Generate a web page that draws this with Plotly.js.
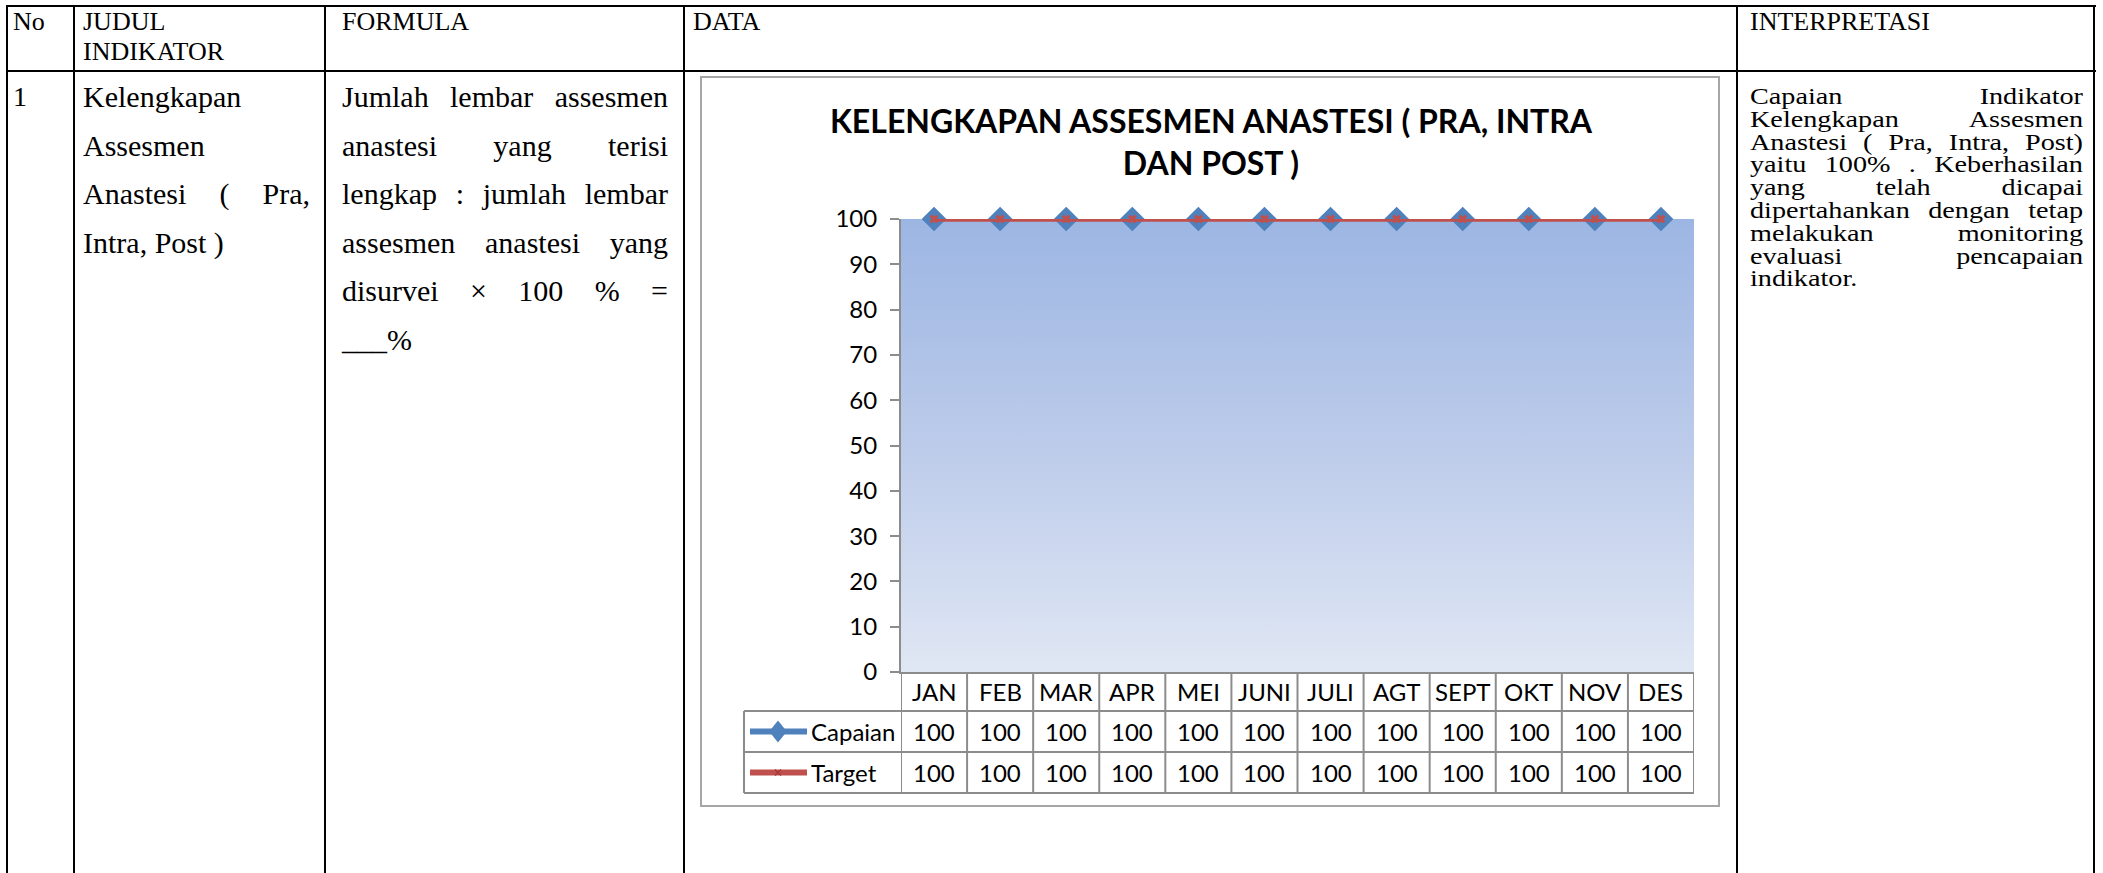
<!DOCTYPE html>
<html><head><meta charset="utf-8">
<script src="https://cdn.plot.ly/plotly-3.0.1.min.js"></script>
<style>
html,body{margin:0;padding:0;background:#fff;width:2103px;height:873px;overflow:hidden;}
.v{position:absolute;background:#000;width:2px;}
.h{position:absolute;background:#000;height:2px;}
.t{position:absolute;font-family:"Liberation Serif","Times New Roman",serif;color:#000;white-space:nowrap;}
.j{display:flex;justify-content:space-between;}
#box{position:absolute;left:700px;top:76px;width:1020px;height:731px;border:2px solid #a6a6a6;box-sizing:border-box;}
#chart{position:absolute;left:700px;top:76px;width:1020px;height:731px;}
</style></head><body>
<div id="page"></div>
<div id="box"></div>
<div id="chart"></div>
<script>
// ---- data ----
const months = ['JAN','FEB','MAR','APR','MEI','JUNI','JULI','AGT','SEPT','OKT','NOV','DES'];
const capaian = [100,100,100,100,100,100,100,100,100,100,100,100];
const target  = [100,100,100,100,100,100,100,100,100,100,100,100];
const seriesNames = ['Capaian','Target'];
const yTickVals = [0,10,20,30,40,50,60,70,80,90,100];
const chartTitle = 'KELENGKAPAN ASSESMEN ANASTESI ( PRA, INTRA<br>DAN POST )';
const headers = ['No','JUDUL<br>INDIKATOR','FORMULA','DATA','INTERPRETASI'];
const rowNo = '1';
const judulLines = [['Kelengkapan'],['Assesmen'],['Anastesi','(','Pra,'],['Intra, Post )']];
const formulaLines = [['Jumlah','lembar','assesmen'],['anastesi','yang','terisi'],['lengkap',':','jumlah','lembar'],['assesmen','anastesi','yang'],['disurvei','\u00d7','100','%','='],['___%']];
const interpLines = [['Capaian','Indikator'],['Kelengkapan','Assesmen'],['Anastesi','(','Pra,','Intra,','Post)'],['yaitu','100%','.','Keberhasilan'],['yang','telah','dicapai'],['dipertahankan','dengan','tetap'],['melakukan','monitoring'],['evaluasi','pencapaian'],['indikator.']];

// ---- document table ----
const page = document.getElementById('page');
function add(cls, style, html){const d=document.createElement('div');d.className=cls;d.style.cssText=style;if(html!==undefined)d.innerHTML=html;page.appendChild(d);return d;}
const colX=[7,74,325,684,1737,2094];
colX.forEach(x=>add('v',`left:${x-1}px;top:5px;height:900px;`));
add('h','left:6px;top:5px;width:2090px;');
add('h','left:6px;top:70px;width:2090px;');
// headers
const hs='font-size:26px;line-height:30px;';
add('t',hs+'left:13px;top:7px;',headers[0]);
add('t',hs+'left:83px;top:7px;',headers[1]);
add('t',hs+'left:342px;top:7px;',headers[2]);
add('t',hs+'left:693px;top:7px;',headers[3]);
add('t',hs+'left:1750px;top:7px;',headers[4]);
// row 1
add('t','font-size:28px;line-height:48.5px;left:13px;top:73px;',rowNo);
function block(lines,left,width,top,fs,lh,sx){
  lines.forEach((words,i)=>{
    const last=(i===lines.length-1)||words.length===1;
    const w=width/(sx||1);
    const d=add('t'+(last?'':' j'),`font-size:${fs}px;line-height:${lh}px;left:${left}px;top:${top+i*lh}px;width:${w}px;`+(sx?`transform:scaleX(${sx});transform-origin:0 0;`:''));
    if(last){d.textContent=words.join(' ');}
    else{words.forEach(w=>{const s=document.createElement('span');s.textContent=w;d.appendChild(s);});}
  });
}
block(judulLines,83,227,73,30,48.5);
block(formulaLines,342,326,73,30,48.5);
block(interpLines,1750,333,85,23.5,22.8,1.2);

// ---- chart ----
const W=1020,H=731,ml=201,mr=26,mt=143,mb=135;
const pw=W-ml-mr, ph=H-mt-mb;
const X0=700+ml, Y0=76+H-mb; // page px of plot origin
const px=X=>(X-X0)/pw, py=Y=>(Y0-Y)/ph;
const grey='#8c8c8c', blue='#4f81bd', red='#c0504d';

const grad='data:image/svg+xml;charset=utf-8,'+encodeURIComponent('<svg xmlns="http://www.w3.org/2000/svg" width="100" height="100" viewBox="0 0 100 100" preserveAspectRatio="none"><defs><linearGradient id="g" x1="0" y1="0" x2="0" y2="1"><stop offset="0" stop-color="#9cb6e3"/><stop offset="0.5" stop-color="#bccbea"/><stop offset="1" stop-color="#e0e7f4"/></linearGradient></defs><rect width="100" height="100" fill="url(#g)"/></svg>');

const traces=[
 {x:months,y:capaian,name:seriesNames[0],type:'scatter',mode:'lines+markers',cliponaxis:false,
  line:{color:blue,width:4},marker:{symbol:'diamond',size:19,color:blue}},
 {x:months,y:target,name:seriesNames[1],type:'scatter',mode:'lines+markers',cliponaxis:false,
  line:{color:red,width:5.5},marker:{symbol:'x',size:8,color:red}}
];

const rowTop=[672,711,752,793];
const rowMid=[(rowTop[0]+rowTop[1])/2,(rowTop[1]+rowTop[2])/2,(rowTop[2]+rowTop[3])/2];
const shapes=[];
const tfont={family:'Lato, "Open Sans", sans-serif',size:24,color:'#000'};
// horizontal rules of data table
[1,2,3].forEach(k=>shapes.push({type:'line',xref:'paper',yref:'paper',x0:px(744),x1:1,y0:py(rowTop[k]),y1:py(rowTop[k]),line:{color:grey,width:2}}));
// vertical rules
for(let i=0;i<=months.length;i++){shapes.push({type:'line',xref:'x',yref:'paper',x0:i-0.5,x1:i-0.5,y0:0,y1:py(rowTop[3]),line:{color:grey,width:2}});}
shapes.push({type:'line',xref:'paper',yref:'paper',x0:px(744),x1:px(744),y0:py(rowTop[1]),y1:py(rowTop[3]),line:{color:grey,width:2}});
// legend keys
const keyL=750,keyR=807;
shapes.push({type:'line',xref:'paper',yref:'paper',x0:px(keyL),x1:px(keyR),y0:py(rowMid[1]),y1:py(rowMid[1]),line:{color:blue,width:6}});
shapes.push({type:'line',xref:'paper',yref:'paper',x0:px(keyL),x1:px(keyR),y0:py(rowMid[2]),y1:py(rowMid[2]),line:{color:red,width:6}});
const cx=778,cy=rowMid[1],r=11;
shapes.push({type:'path',xref:'paper',yref:'paper',path:`M ${px(cx)} ${py(cy-r)} L ${px(cx+r*0.8)} ${py(cy)} L ${px(cx)} ${py(cy+r)} L ${px(cx-r*0.8)} ${py(cy)} Z`,fillcolor:blue,line:{width:0}});
const ty=rowMid[2],q=3;
shapes.push({type:'path',xref:'paper',yref:'paper',path:`M ${px(cx-q)} ${py(ty-q)} L ${px(cx+q)} ${py(ty+q)} M ${px(cx-q)} ${py(ty+q)} L ${px(cx+q)} ${py(ty-q)}`,line:{color:'#a53c3a',width:1.5}});

const ann=[];
months.forEach((m,i)=>{
  ann.push({xref:'x',yref:'paper',x:m,y:py(rowMid[0]),text:m,showarrow:false,font:tfont,xanchor:'center',yanchor:'middle'});
  ann.push({xref:'x',yref:'paper',x:m,y:py(rowMid[1]),text:String(capaian[i]),showarrow:false,font:tfont,xanchor:'center',yanchor:'middle'});
  ann.push({xref:'x',yref:'paper',x:m,y:py(rowMid[2]),text:String(target[i]),showarrow:false,font:tfont,xanchor:'center',yanchor:'middle'});
});
seriesNames.forEach((n,k)=>ann.push({xref:'paper',yref:'paper',x:px(809),y:py(rowMid[k+1]),text:n,showarrow:false,font:tfont,xanchor:'left',yanchor:'middle'}));

const layout={
 width:W,height:H,margin:{l:ml,r:mr,t:mt,b:mb,pad:0},
 paper_bgcolor:'rgba(0,0,0,0)',plot_bgcolor:'rgba(0,0,0,0)',
 showlegend:false,
 title:{text:chartTitle,x:(1211-700)/W,xref:'container',xanchor:'center',y:1-(133-76)/H,yref:'container',yanchor:'middle',
   font:{family:'Lato, "Open Sans", sans-serif',size:32,weight:'bold',color:'#000'}},
 xaxis:{type:'category',range:[-0.5,11.5],showline:true,linecolor:grey,linewidth:2,showticklabels:false,ticks:'',showgrid:false,zeroline:false,fixedrange:true},
 yaxis:{range:[0,100],tickvals:yTickVals,ticks:'outside',ticklen:9,tickwidth:2,tickcolor:grey,showline:true,linecolor:grey,linewidth:2,
   showgrid:false,zeroline:false,tickfont:tfont,ticklabelstandoff:8,fixedrange:true},
 images:[{source:grad,xref:'paper',yref:'paper',x:0,y:1,sizex:1,sizey:1,xanchor:'left',yanchor:'top',sizing:'stretch',layer:'below'}],
 shapes:shapes,annotations:ann
};
Plotly.newPlot('chart',traces,layout,{displayModeBar:false,staticPlot:true});
</script>
</body></html>
